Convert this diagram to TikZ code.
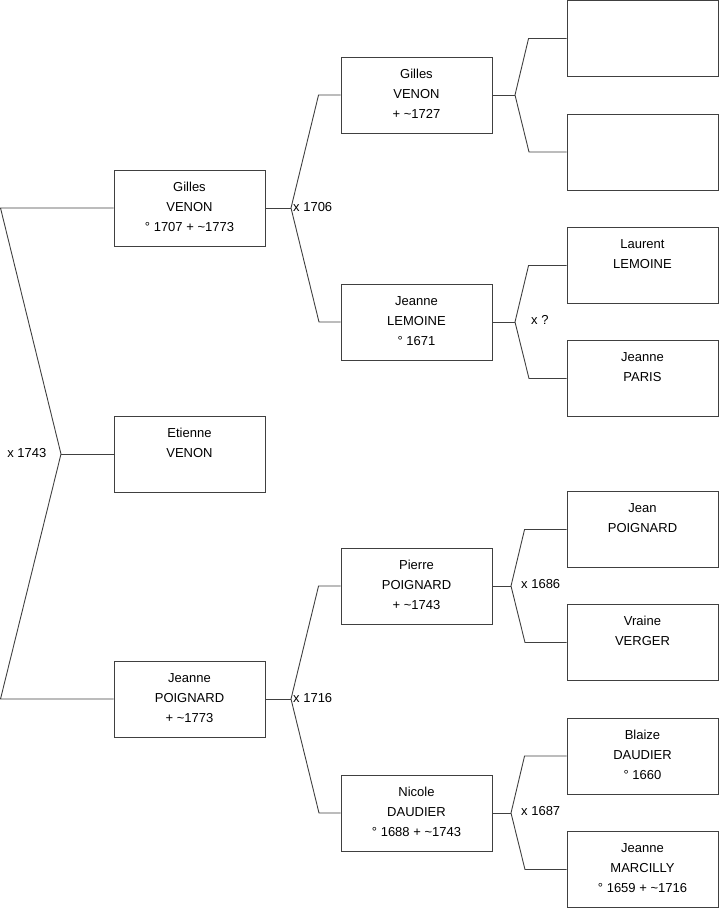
\documentclass[tikz,border=0pt]{standalone}
\usepackage{fontspec}
\setmainfont{Liberation Sans}
\newcommand\bxt[1]{\parbox[c][76pt][t]{151pt}{\centering\fontsize{13}{20}\selectfont\rule{0pt}{21.3pt}#1}}
\begin{document}
\begin{tikzpicture}[x=1pt,y=-1pt,
  person/.style={draw=black!75,line width=0.9pt,fill=white,inner sep=0pt,minimum width=151pt,minimum height=76pt},
  link/.style={draw=black!75,line width=0.9pt},
  mlabel/.style={inner sep=0pt,font=\fontsize{13}{16}\selectfont}]
\useasboundingbox (0,0) rectangle (719,908);
% column 1
\node[person] (g1) at (189.5,208) {\bxt{Gilles\\VENON\\° 1707 + \textasciitilde1773}};
\node[person] (e1) at (189.5,454) {\bxt{Etienne\\VENON}};
\node[person] (j1) at (189.5,699) {\bxt{Jeanne\\POIGNARD\\+ \textasciitilde1773}};
% column 2
\node[person] (g2) at (416.5,95) {\bxt{Gilles\\VENON\\+ \textasciitilde1727}};
\node[person] (l2) at (416.5,322) {\bxt{Jeanne\\LEMOINE\\° 1671}};
\node[person] (p2) at (416.5,586) {\bxt{Pierre\\POIGNARD\\+ \textasciitilde1743}};
\node[person] (n2) at (416.5,813) {\bxt{Nicole\\DAUDIER\\° 1688 + \textasciitilde1743}};
% column 3
\node[person] (a3) at (642.5,38.5) {\bxt{}};
\node[person] (b3) at (642.5,152) {\bxt{}};
\node[person] (c3) at (642.5,265.5) {\bxt{Laurent\\LEMOINE}};
\node[person] (d3) at (642.5,378.5) {\bxt{Jeanne\\PARIS}};
\node[person] (e3) at (642.5,529.5) {\bxt{Jean\\POIGNARD}};
\node[person] (f3) at (642.5,642.5) {\bxt{Vraine\\VERGER}};
\node[person] (h3) at (642.5,756) {\bxt{Blaize\\DAUDIER\\° 1660}};
\node[person] (i3) at (642.5,869.5) {\bxt{Jeanne\\MARCILLY\\° 1659 + \textasciitilde1716}};
% root connector
\coordinate (r1) at (0.5,208);
\coordinate (rv) at (61,454);
\coordinate (r2) at (0.5,699);
\draw[link] (g1.west) -- (r1) -- (rv) -- (r2) -- (j1.west);
\draw[link] (rv) -- (e1.west);
\node[mlabel,anchor=base east] (m1) at (46.5,457.5) {x 1743};
% Gilles VENON parents
\coordinate (v1) at (291,208);
\draw[link] (g2.west) -- ++(-22,0) -- (v1) -- (l2.west -| 319,0) -- (l2.west);
\draw[link] (g1.east) -- (v1);
\node[mlabel,anchor=base west] (m2) at (293,211.5) {x 1706};
% Jeanne POIGNARD parents
\coordinate (v2) at (291,699);
\draw[link] (p2.west) -- ++(-22,0) -- (v2) -- (n2.west -| 319,0) -- (n2.west);
\draw[link] (j1.east) -- (v2);
\node[mlabel,anchor=base west] (m3) at (293,702) {x 1716};
% Gilles VENON (col2) parents
\coordinate (v3) at (515,95);
\draw[link] (a3.west) -- ++(-38,0) -- (v3) -- (b3.west -| 529,0) -- (b3.west);
\draw[link] (g2.east) -- (v3);
% Jeanne LEMOINE parents
\coordinate (v4) at (515,322);
\draw[link] (c3.west) -- ++(-38,0) -- (v4) -- (d3.west -| 529,0) -- (d3.west);
\draw[link] (l2.east) -- (v4);
\node[mlabel,anchor=base west] (m4) at (531,324.5) {x ?};
% Pierre POIGNARD parents
\coordinate (v5) at (511,586);
\draw[link] (e3.west) -- ++(-42,0) -- (v5) -- (f3.west -| 525,0) -- (f3.west);
\draw[link] (p2.east) -- (v5);
\node[mlabel,anchor=base west] (m5) at (521,588) {x 1686};
% Nicole DAUDIER parents
\coordinate (v6) at (511,813);
\draw[link] (h3.west) -- ++(-42,0) -- (v6) -- (i3.west -| 525,0) -- (i3.west);
\draw[link] (n2.east) -- (v6);
\node[mlabel,anchor=base west] (m6) at (521,815.5) {x 1687};
\end{tikzpicture}
\end{document}
